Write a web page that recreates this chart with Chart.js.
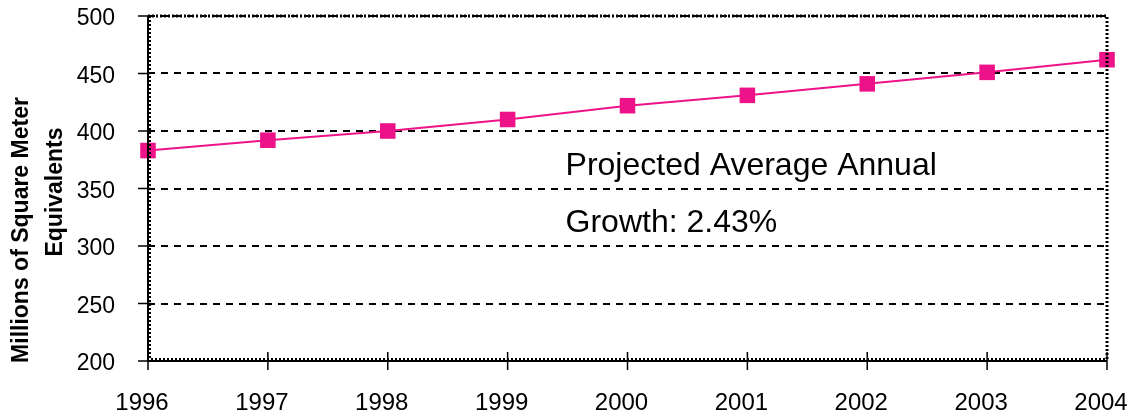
<!DOCTYPE html>
<html>
<head>
<meta charset="utf-8">
<script src="https://cdn.jsdelivr.net/npm/chart.js@4"></script>
<style>
  html, body { margin: 0; padding: 0; background: #fff; overflow: hidden; }
  #wrap { width: 1131px; height: 417px; position: relative; }
</style>
</head>
<body>
<div id="wrap"><canvas id="chart"></canvas></div>
<script>
// data
const years = ['1996', '1997', '1998', '1999', '2000', '2001', '2002', '2003', '2004'];
const sqMeters = [383, 392, 400, 410, 422, 431, 441, 451, 462];
const yTitle = ['Millions of Square Meter', 'Equivalents'];
const noteLines = ['Projected Average Annual', 'Growth: 2.43%'];

const FONT = '"Liberation Sans", Arial, sans-serif';
const PINK = '#ee1289';

// keep the scales from pushing the plot area around
function noPadding(s) {
    s.paddingTop = 0;
    s.paddingBottom = 0;
    s.paddingLeft = 0;
    s.paddingRight = 0;
}

// frame, axis tick marks, y title and the growth note
const framePlugin = {
    id: 'frame',
    afterDraw(chart) {
        const { ctx, chartArea: a, scales } = chart;
        ctx.save();
        ctx.strokeStyle = '#000';

        // dotted top and right edges
        ctx.lineWidth = 3;
        ctx.setLineDash([2, 2]);
        ctx.beginPath();
        ctx.moveTo(a.left, a.top);
        ctx.lineTo(a.right, a.top);
        ctx.lineTo(a.right, a.bottom);
        ctx.stroke();

        // left and bottom axes: solid line with a dotted edge
        ctx.lineWidth = 2;
        ctx.beginPath();
        ctx.moveTo(a.left + 2, a.top);
        ctx.lineTo(a.left + 2, a.bottom - 2);
        ctx.lineTo(a.right, a.bottom - 2);
        ctx.stroke();
        ctx.setLineDash([]);
        ctx.beginPath();
        ctx.moveTo(a.left, a.top);
        ctx.lineTo(a.left, a.bottom);
        ctx.lineTo(a.right, a.bottom);
        ctx.stroke();

        // tick marks
        ctx.lineWidth = 1.5;
        ctx.beginPath();
        scales.x.ticks.forEach((t, i) => {
            const x = scales.x.getPixelForTick(i);
            ctx.moveTo(x, a.bottom - 9);
            ctx.lineTo(x, a.bottom + 9);
        });
        scales.y.ticks.forEach((t, i) => {
            const y = scales.y.getPixelForTick(i);
            ctx.moveTo(a.left - 10, y);
            ctx.lineTo(a.left + 3, y);
        });
        ctx.stroke();

        // y axis title, two rotated lines
        ctx.fillStyle = '#000';
        ctx.font = 'bold 23px ' + FONT;
        ctx.textAlign = 'center';
        ctx.textBaseline = 'alphabetic';
        ctx.save();
        ctx.translate(28, 230);
        ctx.rotate(-Math.PI / 2);
        ctx.fillText(yTitle[0], 0, 0);
        ctx.restore();
        ctx.save();
        ctx.translate(62, 192);
        ctx.rotate(-Math.PI / 2);
        ctx.fillText(yTitle[1], 0, 0);
        ctx.restore();

        // note
        ctx.font = '32px ' + FONT;
        ctx.textAlign = 'left';
        const x0 = scales.x.getPixelForValue(3.5) - 2;
        ctx.fillText(noteLines[0], x0, scales.y.getPixelForValue(362));
        ctx.fillText(noteLines[1], x0, scales.y.getPixelForValue(312));
        ctx.restore();
    }
};

new Chart(document.getElementById('chart'), {
    type: 'line',
    data: {
        labels: years,
        datasets: [{
            data: sqMeters,
            borderColor: PINK,
            backgroundColor: PINK,
            borderWidth: 2,
            pointStyle: 'rect',
            pointRadius: 11,
            pointBorderWidth: 0,
            tension: 0,
            clip: false
        }]
    },
    options: {
        responsive: true,
        maintainAspectRatio: false,
        animation: false,
        layout: { padding: { top: 16, right: 24, left: 0, bottom: 0 } },
        plugins: {
            legend: { display: false },
            tooltip: { enabled: false }
        },
        scales: {
            x: {
                offset: false,
                afterFit(s) { s.height = 56; noPadding(s); },
                grid: { display: false, drawTicks: false },
                border: { display: false },
                ticks: {
                    color: '#000',
                    padding: 28,
                    labelOffset: -6,
                    maxRotation: 0,
                    autoSkip: false,
                    font: { family: FONT, size: 24 }
                }
            },
            y: {
                min: 200,
                max: 500,
                afterFit(s) { s.width = 148; noPadding(s); },
                grid: {
                    drawTicks: false,
                    color: '#000',
                    lineWidth: 2
                },
                border: { display: false, dash: [7, 6] },
                ticks: {
                    stepSize: 50,
                    color: '#000',
                    padding: 33,
                    labelOffset: 3,
                    font: { family: FONT, size: 23 }
                }
            }
        }
    },
    plugins: [framePlugin]
});
</script>
</body>
</html>
